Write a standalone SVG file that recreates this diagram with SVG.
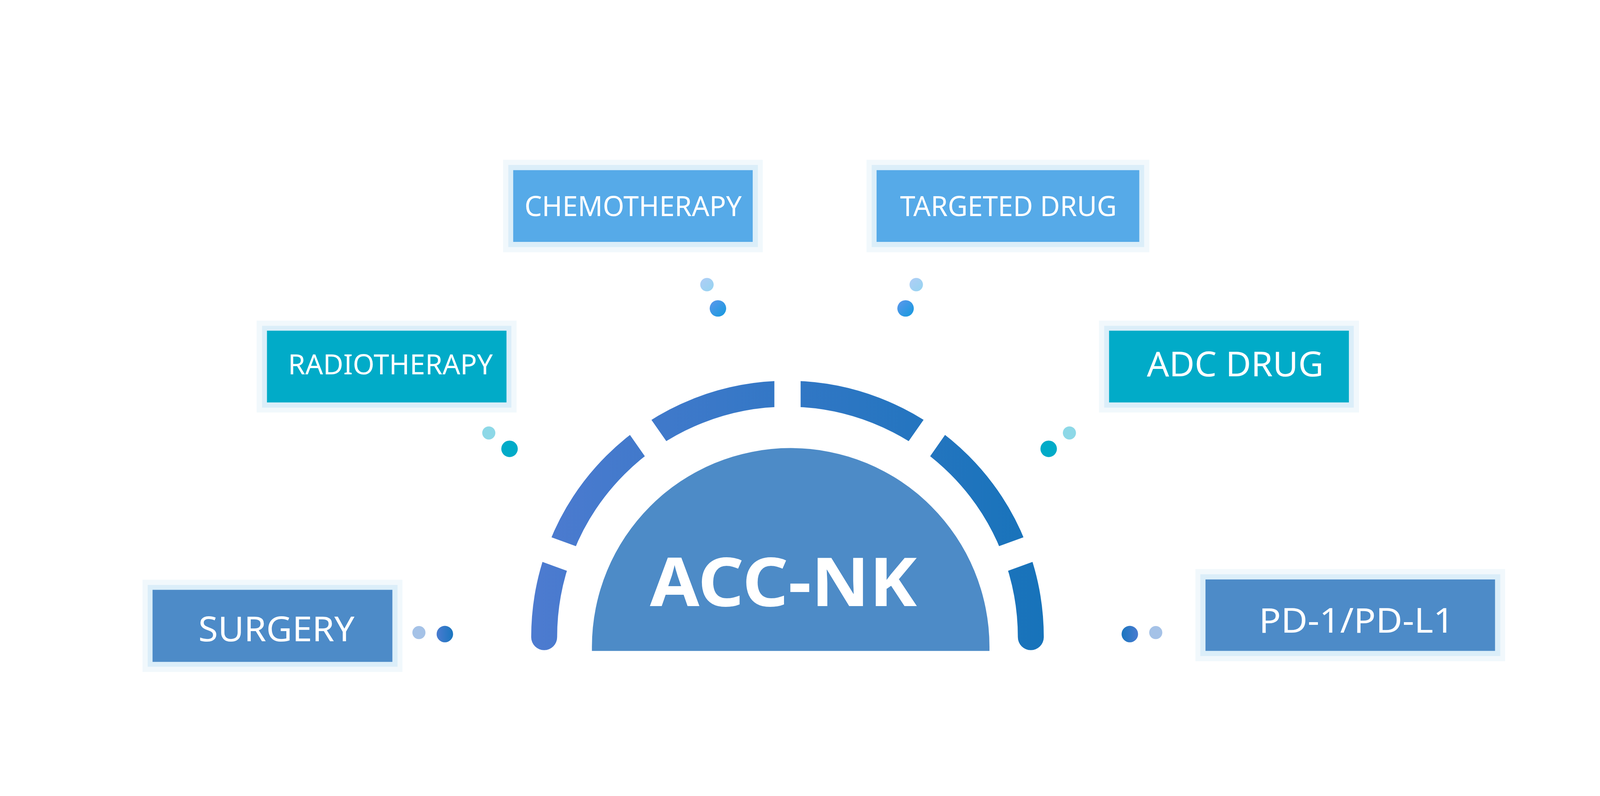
<svg xmlns="http://www.w3.org/2000/svg" width="5244" height="2037" viewBox="0 0 5244 2037" style="width:100vw;height:100vh;display:block">
<style>
.glow1{fill:#f1f8fc}
.glow2{fill:#dbeef9}
.sky{fill:#56aae8}
.teal{fill:#01abc8}
.steel{fill:#4d8bc8}
.lbl{fill:#ffffff;font-family:"Noto Sans","DejaVu Sans",sans-serif;text-anchor:middle;font-size:90px}
.big{font-size:113px}
.title{fill:#ffffff;font-family:"Noto Sans","Open Sans","DejaVu Sans",sans-serif;font-weight:bold;text-anchor:middle;font-size:221px}
</style>
<defs>
<linearGradient id="ringGrad" gradientUnits="userSpaceOnUse" x1="1741" y1="0" x2="3421" y2="0">
<stop offset="0" stop-color="#4d7bd0"/>
<stop offset="1" stop-color="#1773ba"/>
</linearGradient>
<linearGradient id="skyLight" x1="0" y1="0" x2="1" y2="1">
<stop offset="0" stop-color="#b0cdf6"/>
<stop offset="1" stop-color="#95d4f0"/>
</linearGradient>
<linearGradient id="skyDark" x1="0" y1="0" x2="1" y2="1">
<stop offset="0" stop-color="#5e97ec"/>
<stop offset="1" stop-color="#139ade"/>
</linearGradient>
<linearGradient id="steelDarkL" x1="0" y1="0" x2="1" y2="0">
<stop offset="0" stop-color="#4a7bd0"/>
<stop offset="1" stop-color="#1a76bf"/>
</linearGradient>
<linearGradient id="steelDarkR" x1="0" y1="0" x2="1" y2="0">
<stop offset="0" stop-color="#1a76bf"/>
<stop offset="1" stop-color="#4a7bd0"/>
</linearGradient>
<mask id="gaps" maskUnits="userSpaceOnUse" x="0" y="0" width="5244" height="2037">
<rect x="0" y="0" width="5244" height="2037" fill="#fff"/>
<g fill="#000">
<rect x="-43" y="-920" width="86" height="240" transform="translate(2581 1802) rotate(-70)"/>
<rect x="-43" y="-920" width="86" height="240" transform="translate(2581 1802) rotate(-35)"/>
<rect x="-43" y="-920" width="86" height="240" transform="translate(2581 1802)"/>
<rect x="-43" y="-920" width="86" height="240" transform="translate(2581 1802) rotate(35)"/>
<rect x="-43" y="-920" width="86" height="240" transform="translate(2581 1802) rotate(70)"/>
</g>
</mask>
</defs>
<rect x="0" y="0" width="5244" height="2037" fill="#ffffff"/>

<g id="center-acc-nk">
<path d="M1783.5 1802 A797.5 797.5 0 0 1 3378.5 1802" fill="none" stroke="url(#ringGrad)" stroke-width="85" stroke-linecap="round" mask="url(#gaps)"/>
<path d="M1940 1847 L1940 1834 A651.5 651.5 0 0 1 3243 1834 L3243 1847 Z" fill="#4d8bc7"/>
<text class="title" x="2567.5" y="1700" textLength="875" lengthAdjust="spacingAndGlyphs">ACC-NK</text>
</g>

<g id="node-chemotherapy">
<rect class="glow1" x="1649" y="238" width="851" height="303"/>
<rect class="glow2" x="1666" y="255" width="818" height="269"/>
<rect class="sky" x="1682" y="272" width="785" height="235"/>
<text class="lbl" x="2075" y="422" textLength="712" lengthAdjust="spacingAndGlyphs">CHEMOTHERAPY</text>
</g>

<g id="node-targeted-drug">
<rect class="glow1" x="2840" y="238" width="927" height="303"/>
<rect class="glow2" x="2857" y="255" width="893" height="269"/>
<rect class="sky" x="2873" y="272" width="861" height="235"/>
<text class="lbl" x="3305" y="422" textLength="710" lengthAdjust="spacingAndGlyphs">TARGETED DRUG</text>
</g>

<g id="node-radiotherapy">
<rect class="glow1" x="841" y="765" width="852" height="301"/>
<rect class="glow2" x="859" y="782" width="817" height="268"/>
<rect class="teal" x="875" y="798" width="785" height="235"/>
<text class="lbl" x="1279.5" y="941" textLength="671" lengthAdjust="spacingAndGlyphs">RADIOTHERAPY</text>
</g>

<g id="node-adc-drug">
<rect class="glow1" x="3602" y="765" width="852" height="301"/>
<rect class="glow2" x="3619" y="782" width="818" height="268"/>
<rect class="teal" x="3635" y="798" width="786" height="235"/>
<text class="lbl big" x="4048.5" y="948" textLength="579" lengthAdjust="spacingAndGlyphs">ADC DRUG</text>
</g>

<g id="node-surgery">
<rect class="glow1" x="467" y="1614" width="852" height="302"/>
<rect class="glow2" x="484" y="1631" width="819" height="268"/>
<rect class="steel" x="500" y="1647" width="786" height="236"/>
<text class="lbl big" x="906" y="1816" textLength="512" lengthAdjust="spacingAndGlyphs">SURGERY</text>
</g>

<g id="node-pd1-pdl1">
<rect class="glow1" x="3918" y="1579" width="1015" height="302"/>
<rect class="glow2" x="3934" y="1596" width="983" height="268"/>
<rect class="steel" x="3951" y="1613" width="949" height="234"/>
<text class="lbl big" x="4446" y="1787" textLength="640" lengthAdjust="spacingAndGlyphs">PD-1/PD-L1</text>
</g>

<g id="connectors">
<circle cx="2317" cy="647" r="22" fill="url(#skyLight)"/>
<circle cx="2353" cy="725" r="27" fill="url(#skyDark)"/>
<circle cx="3003" cy="647" r="22" fill="url(#skyLight)"/>
<circle cx="2968" cy="725" r="27" fill="url(#skyDark)"/>
<circle cx="1602" cy="1133" r="21.5" fill="#8dd8e7"/>
<circle cx="1670" cy="1185" r="27" fill="#01abc8"/>
<circle cx="3505" cy="1133" r="21.5" fill="#8dd8e7"/>
<circle cx="3437" cy="1185" r="27" fill="#01abc8"/>
<circle cx="1373" cy="1787" r="21.5" fill="#a5c2e7"/>
<circle cx="1458" cy="1792" r="27" fill="url(#steelDarkL)"/>
<circle cx="3788" cy="1787" r="21.5" fill="#a5c2e7"/>
<circle cx="3703" cy="1792" r="27" fill="url(#steelDarkR)"/>
</g>
</svg>
